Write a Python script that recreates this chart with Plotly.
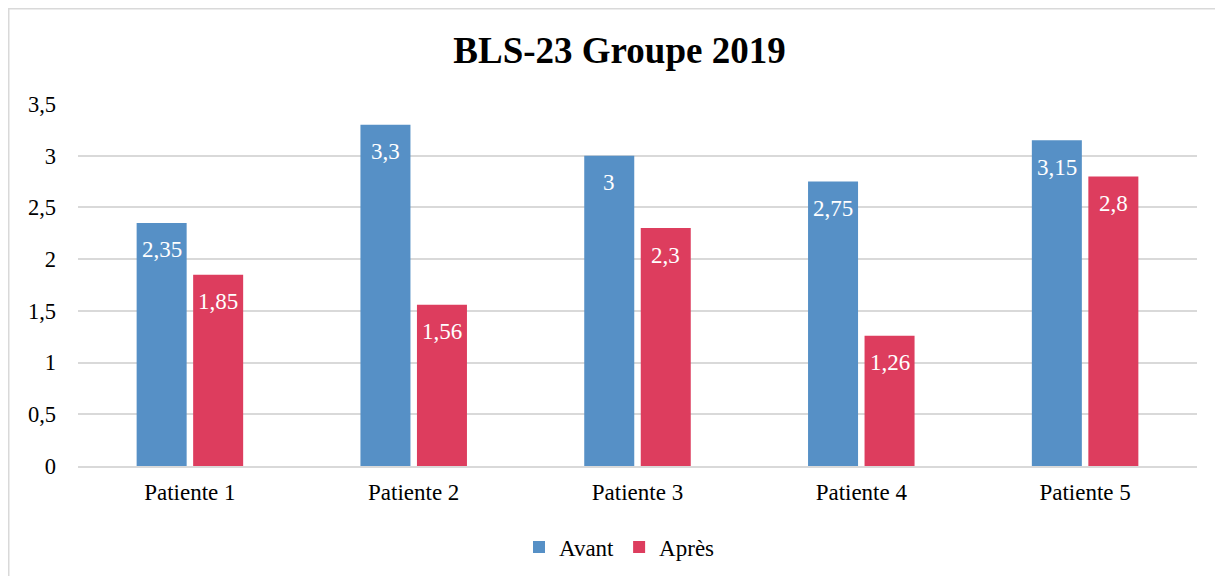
import plotly.graph_objects as go

categories = ["Patiente 1", "Patiente 2", "Patiente 3", "Patiente 4", "Patiente 5"]
avant = [2.35, 3.3, 3.0, 2.75, 3.15]
apres = [1.85, 1.56, 2.3, 1.26, 2.8]
series_names = ["Avant", "Après"]
colors = ["#5690C6", "#DD3D5E"]
tick_vals = [0, 0.5, 1, 1.5, 2, 2.5, 3, 3.5]


def fmt(v):
    return ("%g" % v).replace(".", ",")


W, H = 1223, 576
ML, MR, MT, MB = 70, 34, 96, 118
PW, PH = W - ML - MR, H - MT - MB

fig = go.Figure()
for name, vals, col in zip(series_names, [avant, apres], colors):
    fig.add_trace(go.Bar(
        x=categories, y=vals, name=name,
        marker=dict(color=col, line=dict(width=0)),
        offsetgroup=name,
    ))

fig.update_layout(
    barmode="group",
    bargap=0.495,
    bargroupgap=0.115,
    width=W, height=H,
    margin=dict(l=ML, r=MR, t=MT, b=MB),
    paper_bgcolor="white", plot_bgcolor="white",
    separators=", ",
    title=dict(text="<b>BLS-23 Groupe 2019</b>", x=0.5, xanchor="center",
               y=1 - 42 / H, yanchor="middle",
               font=dict(family="Liberation Serif", size=37, color="black")),
    font=dict(family="Liberation Serif", color="black"),
    legend=dict(orientation="h", x=0.5 - 18 / PW, xanchor="center", y=-81 / PH, yanchor="middle",
                font=dict(size=23, family="Liberation Serif"),
                itemwidth=30, traceorder="normal"),
    xaxis=dict(showgrid=False, showline=True, linecolor="#d9d9d9", linewidth=1.5,
               ticks="", tickfont=dict(size=23), ticklabelstandoff=5),
    yaxis=dict(range=[0, 3.5], tickvals=tick_vals, showgrid=True, gridcolor="#d9d9d9",
               gridwidth=1.5, zeroline=False, showline=False, ticks="",
               tickfont=dict(size=22.5), ticklabelstandoff=21),
)

# data labels inside bars near the top
for vals, off in [(avant, -1), (apres, 1)]:
    for i, v in enumerate(vals):
        fig.add_annotation(
            x=i + off * 0.126, y=v, xref="x", yref="y",
            text=fmt(v), showarrow=False, yshift=-27, yanchor="middle",
            font=dict(size=23, color="white", family="Liberation Serif"),
        )

# outer chart border (figure edge)
fig.add_shape(type="rect", xref="paper", yref="paper",
              x0=-(ML - 0.75) / PW, x1=1 + (MR - 0.75) / PW,
              y0=-(MB - 0.75) / PH, y1=1 + (MT - 0.75) / PH,
              line=dict(color="#d9d9d9", width=1.5), fillcolor="rgba(0,0,0,0)", layer="below")

fig.write_html("out.html")
